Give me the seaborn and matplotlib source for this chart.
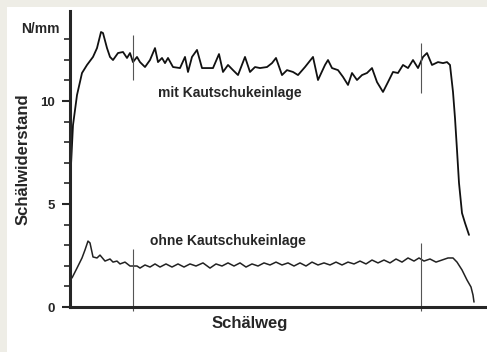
import matplotlib
matplotlib.use("Agg")
import matplotlib.pyplot as plt
import seaborn as sns
import numpy as np
import pandas as pd

# Schälweg (arbitrary units) and Schälwiderstand (N/mm)
weg_mit = [1, 3, 7, 12, 17, 23, 27, 31, 33, 37, 40, 43, 48, 53, 57, 60, 63, 67, 70, 75,
           80, 85, 88, 92, 95, 98, 103, 110, 115, 118, 122, 127, 132, 138, 143, 149,
           153, 158, 163, 168, 175, 180, 185, 190, 197, 202, 206, 212, 217, 223, 228,
           235, 243, 248, 255, 258, 262, 268, 273, 278, 282, 287, 292, 297, 302, 307,
           313, 318, 323, 328, 333, 338, 343, 348, 353, 357, 362, 368, 373, 377, 380,
           383, 385, 387, 389, 392, 395, 399]
mit = [6.9, 8.83, 10.29, 11.36, 11.75, 12.14, 12.57, 13.35, 13.3, 12.57, 12.14, 11.99,
       12.33, 12.38, 12.09, 12.33, 11.89, 12.14, 11.89, 11.65, 11.99, 12.57, 11.89,
       12.09, 11.84, 12.09, 11.65, 11.6, 12.14, 11.41, 12.14, 12.48, 11.6, 11.6, 11.6,
       12.28, 11.41, 11.75, 11.5, 11.26, 12.14, 11.41, 11.65, 11.6, 11.65, 11.84,
       12.09, 11.26, 11.5, 11.41, 11.26, 11.65, 12.14, 11.02, 11.75, 11.99, 11.6, 11.5,
       11.17, 10.78, 11.36, 11.02, 11.26, 11.36, 11.6, 10.92, 10.44, 10.92, 11.41,
       11.36, 11.75, 11.6, 11.99, 11.6, 12.14, 12.33, 11.75, 11.89, 11.84, 11.89,
       11.75, 10.44, 9.17, 7.62, 6.02, 4.56, 4.08, 3.5]

weg_ohne = [2, 7, 12, 15, 18, 20, 23, 27, 30, 35, 40, 43, 47, 50, 55, 60, 67, 70, 75,
            80, 85, 90, 96, 102, 108, 114, 120, 126, 133, 140, 146, 152, 158, 164, 170,
            176, 182, 188, 194, 200, 206, 212, 218, 224, 230, 236, 242, 248, 254, 260,
            266, 272, 278, 284, 290, 296, 302, 308, 314, 320, 326, 332, 338, 344, 349,
            354, 360, 366, 372, 378, 383, 387, 392, 397, 401, 403, 404]
ohne = [1.41, 1.89, 2.38, 2.77, 3.2, 3.11, 2.43, 2.38, 2.52, 2.23, 2.33, 2.18, 2.23,
        2.09, 2.18, 1.99, 1.99, 1.89, 2.04, 1.94, 2.09, 1.94, 2.09, 1.94, 2.09, 1.94,
        2.09, 1.99, 2.14, 1.89, 2.09, 1.99, 2.14, 1.99, 2.14, 1.94, 2.09, 1.99, 2.14,
        2.04, 2.18, 2.04, 2.14, 1.99, 2.14, 1.99, 2.18, 2.04, 2.14, 2.04, 2.18, 2.04,
        2.18, 2.09, 2.23, 2.09, 2.28, 2.14, 2.28, 2.14, 2.33, 2.18, 2.38, 2.23, 2.38,
        2.23, 2.33, 2.18, 2.28, 2.38, 2.38, 2.18, 1.8, 1.31, 0.97, 0.58, 0.24]

# vertical marks: (position, lower end, upper end)
marken_x = [63, 63, 351, 351]
marken_von = [11.0, -0.2, 10.4, -0.2]
marken_bis = [13.2, 2.8, 12.8, 3.1]

sns.set_style("ticks")
plt.rcParams['font.family'] = ['Liberation Sans', 'DejaVu Sans']
plt.rcParams['font.weight'] = 'bold'

fig = plt.figure(figsize=(4.87, 3.52), dpi=100, facecolor='#eeede6')
# white paper area
fig.patches.append(plt.Rectangle((7 / 487, 0), 1, 1 - 7 / 352, transform=fig.transFigure,
                                 facecolor='white', edgecolor='none', zorder=-5))
ax = fig.add_axes([70 / 487, 45 / 352, 417 / 487, 296 / 352])
ax.set_facecolor('none')

df_mit = pd.DataFrame({'weg': weg_mit, 'wert': mit})
df_ohne = pd.DataFrame({'weg': weg_ohne, 'wert': ohne})
sns.lineplot(data=df_mit, x='weg', y='wert', ax=ax, color='#111111', lw=1.3,
             sort=False, estimator=None)
sns.lineplot(data=df_ohne, x='weg', y='wert', ax=ax, color='#222222', lw=1.1,
             sort=False, estimator=None)
ax.vlines(marken_x, marken_von, marken_bis, color='#555555', lw=0.8, clip_on=False)

ax.set_xlim(0, 417)
ax.set_ylim(0, 14.37)
sns.despine(ax=ax)
ax.spines['left'].set_linewidth(2.2)
ax.spines['bottom'].set_linewidth(2.2)
ax.set_xticks([])
ax.set_yticks([0, 5, 10])
ax.set_yticks(np.arange(0, 14, 1), minor=True)
ax.tick_params(axis='y', which='major', length=6, width=1.5, pad=5, labelsize=9.5)
ax.tick_params(axis='y', which='minor', length=4, width=1.2)
for t in ax.get_yticklabels():
    t.set_fontweight('bold')

ax.set_xlabel('Schälweg', fontsize=12, fontweight='bold')
ax.xaxis.set_label_coords(180 / 417, -0.03)
ax.set_ylabel('Schälwiderstand', fontsize=12, fontweight='bold', labelpad=7)
ax.text(-0.025, 13.5, 'N/mm', transform=ax.get_yaxis_transform(), ha='right',
        va='center', fontsize=10, fontweight='bold')
ax.text(160, 10.4, 'mit Kautschukeinlage', ha='center', va='center', fontsize=10,
        fontweight='bold')
ax.text(158, 3.2, 'ohne Kautschukeinlage', ha='center', va='center', fontsize=10,
        fontweight='bold')

fig.savefig('out.png', dpi=100, facecolor=fig.get_facecolor())
